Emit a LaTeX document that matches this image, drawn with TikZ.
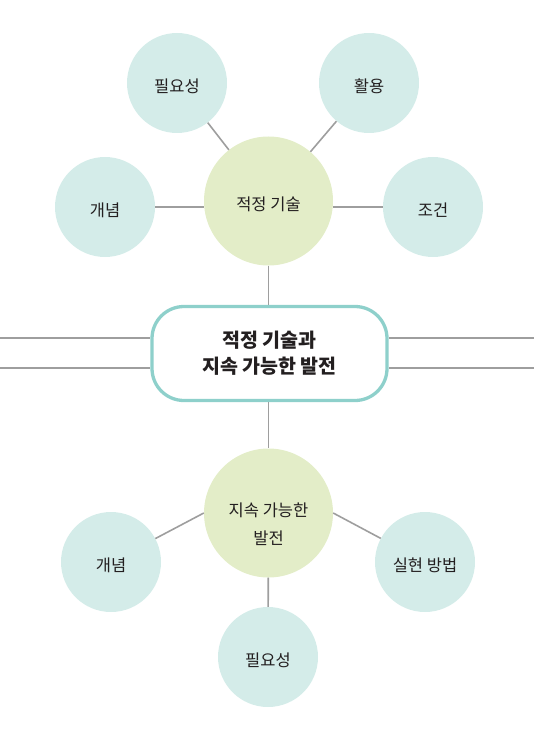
\documentclass[tikz,border=0pt]{standalone}
\usepackage{fontspec}
\usepackage{xcolor}
\newfontfamily\kofont{Noto Sans CJK KR}
\definecolor{mintfill}{HTML}{D4ECE9}
\definecolor{limefill}{HTML}{E3EDC8}
\definecolor{tealline}{HTML}{8ED0CB}
\definecolor{linkgray}{HTML}{9E9E9E}
\definecolor{inkdark}{HTML}{231F20}
\tikzset{
  subtopic/.style={circle, fill=mintfill, minimum size=100pt, inner sep=0pt,
    text=inkdark, align=center, text height=19pt, text depth=0pt,
    font=\kofont\fontsize{16.5}{27}\selectfont},
  topic/.style={circle, fill=limefill, minimum size=129pt, inner sep=0pt,
    text=inkdark, align=center, text height=19pt, text depth=0pt,
    font=\kofont\fontsize{16.5}{28}\selectfont},
  hub/.style={rectangle, rounded corners=32pt, draw=tealline, line width=3.3pt,
    fill=white, minimum width=235pt, minimum height=94pt, text=inkdark,
    align=center, font=\kofont\bfseries\fontsize{19.5}{26}\selectfont},
  link/.style={draw=linkgray, line width=1.6pt}
}

\begin{document}
\begin{tikzpicture}[x=1pt,y=-1pt]
  \useasboundingbox (0,0) rectangle (534,730);

  % centre box
  \node[hub] (hub) at (269.5,353.5) {적정 기술과\\지속 가능한 발전};

  % upper group
  \node[topic] (techT) at (268.5,201) {적정 기술};
  \node[subtopic] (needT) at (177,83) {필요성};
  \node[subtopic] (useT) at (369,83) {활용};
  \node[subtopic] (ideaT) at (105,207) {개념};
  \node[subtopic] (condT) at (433,207) {조건};

  % lower group
  \node[topic, text height=62pt] (devB) at (268.5,513) {지속 가능한\\발전};
  \node[subtopic] (ideaB) at (111,562) {개념};
  \node[subtopic] (wayB) at (425,562) {실현 방법};
  \node[subtopic] (needB) at (268,657) {필요성};

  % side rails
  \coordinate (railL1) at (0,338);
  \coordinate (railL2) at (0,368);
  \coordinate (railR1) at (534,338);
  \coordinate (railR2) at (534,368);
  \draw[link] (railL1) -- (railL1 -| hub.west);
  \draw[link] (railL2) -- (railL2 -| hub.west);
  \draw[link] (railR1) -- (railR1 -| hub.east);
  \draw[link] (railR2) -- (railR2 -| hub.east);

  % connectors
  \draw[link] (techT.south) -- (techT.south |- hub.north);
  \draw[link] (devB.north |- hub.south) -- (devB.north);
  \draw[link] (needT) -- (techT);
  \draw[link] (useT) -- (techT);
  \draw[link] (ideaT.east) -- (ideaT.east -| techT.west);
  \draw[link] (condT.west) -- (condT.west -| techT.east);
  \draw[link] (ideaB) -- (devB.west);
  \draw[link] (devB.east) -- (wayB);
  \draw[link] (devB) -- (needB);
\end{tikzpicture}
\end{document}
